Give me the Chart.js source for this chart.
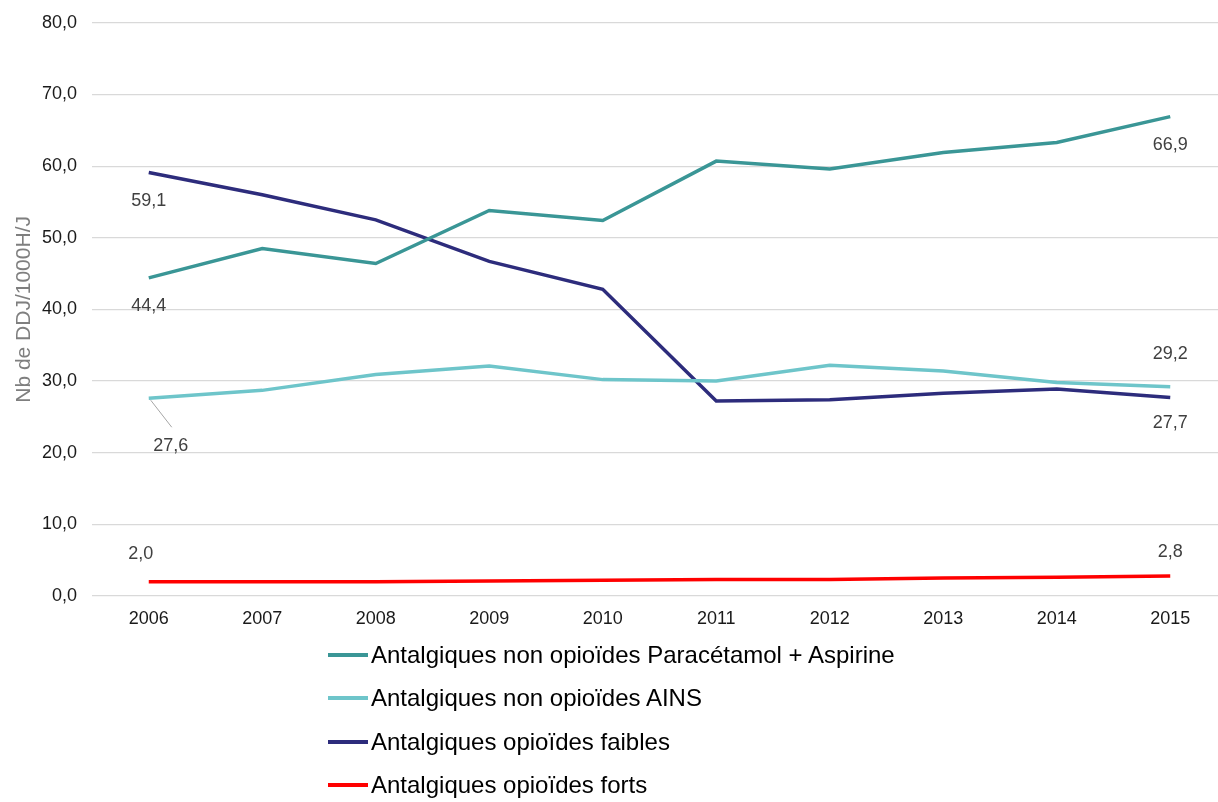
<!DOCTYPE html>
<html>
<head>
<meta charset="utf-8">
<script src="https://cdn.jsdelivr.net/npm/chart.js@4"></script>
<style>
  html, body { margin:0; padding:0; background:#fff; overflow:hidden; width:1218px; height:802px; }
  #wrap { position:relative; width:1240px; height:640px; margin-top:-3px; }
  .legend { position:absolute; left:328px; top:633px; font-family:"Liberation Sans", Arial, sans-serif; font-size:24px; color:#000; }
  .legend .row { display:flex; align-items:center; height:43.5px; }
  .legend .swatch { width:40px; height:4px; margin-right:3px; }
</style>
</head>
<body>
<div id="wrap"><canvas id="c" width="1240" height="640"></canvas></div>
<div class="legend" id="legend"></div>
<script>
const years = ['2006','2007','2008','2009','2010','2011','2012','2013','2014','2015'];
const paraAspirine = [44.4, 48.5, 46.4, 53.8, 52.4, 60.7, 59.6, 61.9, 63.3, 66.9];
const ains = [27.6, 28.7, 30.9, 32.1, 30.2, 30.0, 32.2, 31.4, 29.8, 29.2];
const opioFaibles = [59.1, 56.0, 52.5, 46.7, 42.8, 27.2, 27.4, 28.3, 28.9, 27.7];
const opioForts = [2.0, 2.0, 2.0, 2.1, 2.2, 2.3, 2.3, 2.5, 2.6, 2.8];
const seriesNames = [
  'Antalgiques non opioïdes Paracétamol + Aspirine',
  'Antalgiques non opioïdes AINS',
  'Antalgiques opioïdes faibles',
  'Antalgiques opioïdes forts'
];
const colors = ['#3a9696', '#6ec5ca', '#2d2c7c', '#ff0000'];

const FONT = '"Liberation Sans", Arial, sans-serif';
const fmt = v => v.toFixed(1).replace('.', ',');

// label offsets (dataset, index, dx, dy, leader)
const labelSpots = [
  [0, 0, 0, 28], [0, 9, 0, 28],
  [1, 0, 22, 48, true], [1, 9, 0, -33],
  [2, 0, 0, 28], [2, 9, 0, 26],
  [3, 0, -8, -28], [3, 9, 0, -24]
];

const endLabels = {
  id: 'endLabels',
  afterDatasetsDraw(chart) {
    const ctx = chart.ctx;
    ctx.save();
    ctx.font = '18px ' + FONT;
    ctx.fillStyle = '#404040';
    ctx.textAlign = 'center';
    ctx.textBaseline = 'middle';
    labelSpots.forEach(([d, i, dx, dy, leader]) => {
      const pt = chart.getDatasetMeta(d).data[i];
      const val = chart.data.datasets[d].data[i];
      if (leader) {
        ctx.strokeStyle = '#a6a6a6';
        ctx.lineWidth = 1;
        ctx.beginPath();
        ctx.moveTo(pt.x + 2, pt.y + 2);
        ctx.lineTo(pt.x + dx + 1, pt.y + dy - 19);
        ctx.stroke();
      }
      ctx.fillText(fmt(val), pt.x + dx, pt.y + dy);
    });
    ctx.restore();
  }
};

const allSeries = [paraAspirine, ains, opioFaibles, opioForts];

new Chart(document.getElementById('c'), {
  type: 'line',
  data: {
    labels: years,
    datasets: allSeries.map((s, k) => ({
      label: seriesNames[k],
      data: s,
      borderColor: colors[k],
      backgroundColor: colors[k],
      borderWidth: 3.5,
      pointRadius: 0,
      tension: 0,
      fill: false
    }))
  },
  options: {
    responsive: false,
    animation: false,
    layout: { padding: { top: 19, right: 13, left: 0, bottom: 0 } },
    plugins: { legend: { display: false }, tooltip: { enabled: false } },
    scales: {
      x: {
        offset: true,
        grid: { display: false, drawTicks: false },
        border: { display: false },
        ticks: { font: { size: 18, family: FONT }, color: '#1a1a1a', padding: 12 },
        afterFit(axis) { axis.height = 41; }
      },
      y: {
        min: 0, max: 80,
        grid: { color: '#d9d9d9', lineWidth: 1.2, drawTicks: false },
        border: { display: false },
        ticks: { stepSize: 10, font: { size: 18, family: FONT }, color: '#1a1a1a', padding: 15, callback: v => fmt(v) },
        title: { display: true, text: 'Nb de DDJ/1000H/J', font: { size: 21, family: FONT }, color: '#7f7f7f', padding: { top: 12, bottom: 0 } },
        afterFit(axis) { axis.width = 92; }
      }
    }
  },
  plugins: [endLabels]
});

const lg = document.getElementById('legend');
seriesNames.forEach((n, k) => {
  const row = document.createElement('div');
  row.className = 'row';
  row.innerHTML = `<span class="swatch" style="background:${colors[k]}"></span><span>${n}</span>`;
  lg.appendChild(row);
});
</script>
</body>
</html>
